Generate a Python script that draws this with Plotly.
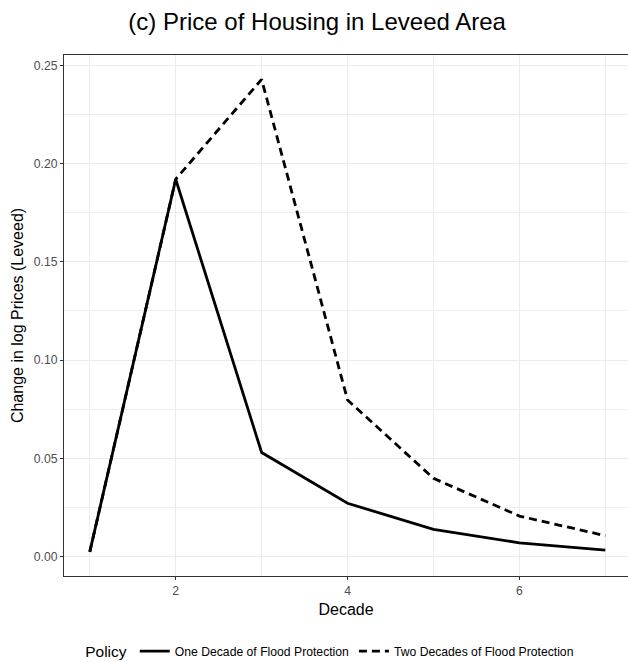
import plotly.graph_objects as go

decade = [1, 2, 3, 4, 5, 6, 7]
one_decade = [0.0025, 0.192, 0.053, 0.0272, 0.0139, 0.0071, 0.0034]
two_decades = [0.0025, 0.192, 0.2428, 0.0797, 0.0399, 0.0207, 0.0107]
y_ticks = [0.0, 0.05, 0.10, 0.15, 0.20, 0.25]
x_ticks = [2, 4, 6]

FONT = "Liberation Sans, Arial, Helvetica, sans-serif"

fig = go.Figure()
fig.add_trace(go.Scatter(x=decade, y=one_decade, mode="lines",
                         name="One Decade of Flood Protection",
                         line=dict(color="black", width=2.8)))
fig.add_trace(go.Scatter(x=decade, y=two_decades, mode="lines",
                         name="Two Decades of Flood Protection",
                         line=dict(color="black", width=2.8, dash="8px,5px")))

fig.update_layout(
    width=628, height=662,
    margin=dict(l=64, r=0, t=55, b=86, autoexpand=False),
    paper_bgcolor="white", plot_bgcolor="white",
    font=dict(family=FONT, color="black"),
    title=dict(text="(c) Price of Housing in Leveed Area",
               font=dict(size=24, color="black", family=FONT),
               x=0.505, xanchor="center", y=0.967, yanchor="middle"),
    showlegend=True,
    legend=dict(orientation="h", x=0.034, xanchor="left", y=-0.146, yanchor="middle",
                title=dict(text="Policy", font=dict(size=15.5, weight="normal")),
                font=dict(size=12.2, color="black"), itemwidth=30,
                bgcolor="rgba(0,0,0,0)"),
    xaxis=dict(range=[0.7, 7.264], tickvals=x_ticks, ticktext=[str(v) for v in x_ticks],
               showgrid=True, gridcolor="#EBEBEB", gridwidth=1.1,
               minor=dict(dtick=1, tick0=1, showgrid=True, gridcolor="#EDEDED", gridwidth=0.6, ticks=""),
               showline=True, linecolor="#333333", linewidth=1, mirror=True,
               ticks="outside", ticklen=3, tickcolor="#333333",
               tickfont=dict(size=12.2, color="#4D4D4D"), zeroline=False, automargin=False,
               title=dict(text="Decade", font=dict(size=16, color="black"), standoff=7)),
    yaxis=dict(range=[-0.0098, 0.2552], tickvals=y_ticks, ticktext=[f"{v:.2f}" for v in y_ticks],
               showgrid=True, gridcolor="#EBEBEB", gridwidth=1.1,
               minor=dict(dtick=0.025, tick0=0, showgrid=True, gridcolor="#EDEDED", gridwidth=0.6, ticks=""),
               showline=True, linecolor="#333333", linewidth=1, mirror=False,
               ticks="outside", ticklen=3, tickcolor="#333333",
               tickfont=dict(size=12.2, color="#4D4D4D"), zeroline=False, automargin=False,
               title=dict(text="Change in log Prices (Leveed)", font=dict(size=16, color="black"), standoff=6)),
)

fig.write_html("out.html", config={"displayModeBar": False},
               post_script="document.body.style.margin='0';document.body.style.padding='0';")
